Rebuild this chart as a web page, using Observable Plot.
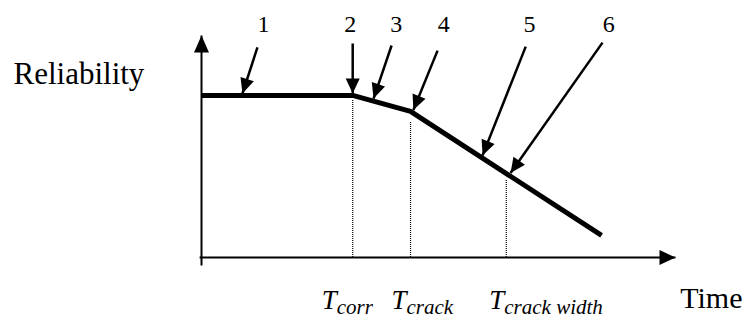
<!DOCTYPE html>
<html><head><meta charset="utf-8">
<script src="https://cdn.jsdelivr.net/npm/d3@7"></script>
<script src="https://cdn.jsdelivr.net/npm/@observablehq/plot@0.6"></script>
<style>body{margin:0;background:#fff} svg{display:block}</style>
</head><body><div id="chart"></div>
<script>
// ---- data (time units / reliability units) ----
const curveTime = [0, 3.19, 4.41, 8.44];
const curveReliability = [0.73, 0.73, 0.658, 0.10];
const milestoneNames = ["corr", "crack", "crack width"];
const milestoneTime = [3.19, 4.41, 6.43];
const milestoneGuideTop = [0.707, 0.613, 0.351];
const calloutLabels = ["1", "2", "3", "4", "5", "6"];
const calloutLabelTime = [1.31, 3.14, 4.11, 5.11, 6.92, 8.59];
const calloutFromTime = [1.18, 3.19, 4.01, 4.98, 6.84, 8.46];
const calloutFromRel = [0.946, 0.964, 0.955, 0.932, 0.950, 0.968];
const calloutToTime = [0.865, 3.19, 3.63, 4.47, 5.93, 6.52];
const calloutToRel = [0.739, 0.739, 0.716, 0.664, 0.460, 0.381];
const axisTimeMax = 10;
const axisRelMax = 1;
const yAxisLabel = "Reliability";
const xAxisLabel = "Time";

const curve = curveTime.map((t, i) => ({t, r: curveReliability[i]}));
const milestones = milestoneTime.map((t, i) => ({t, top: milestoneGuideTop[i], name: milestoneNames[i]}));
const callouts = calloutLabels.map((label, i) => ({
  label, lt: calloutLabelTime[i],
  x1: calloutFromTime[i], y1: calloutFromRel[i], x2: calloutToTime[i], y2: calloutToRel[i]
}));

function filledHead(len, wid) {
  return (color) => {
    const m = d3.create("svg:marker")
      .attr("viewBox", `${-len} ${-wid / 2} ${len} ${wid}`)
      .attr("markerUnits", "userSpaceOnUse")
      .attr("markerWidth", len).attr("markerHeight", wid)
      .attr("refX", 0).attr("refY", 0)
      .attr("orient", "auto")
      .attr("overflow", "visible");
    m.append("path")
      .attr("d", `M${-len},${-wid / 2}L0,0L${-len},${wid / 2}Z`)
      .attr("fill", color).attr("stroke", "none");
    return m.node();
  };
}

const serif = "'Liberation Serif', 'Times New Roman', serif";
const labelShift = [-16, -4, -2];

const marks = [
  // axes
  Plot.link([0], {x1: 0, x2: 0, y1: -0.036, y2: axisRelMax, stroke: "#000", strokeWidth: 2, markerEnd: filledHead(17, 15)}),
  Plot.link([0], {x1: -0.04, x2: axisTimeMax, y1: 0, y2: 0, stroke: "#000", strokeWidth: 2, markerEnd: filledHead(16, 15)}),
  // dotted guides
  Plot.ruleX(milestones, {x: "t", y1: 0, y2: "top", stroke: "#000", strokeWidth: 1.2, strokeDasharray: "1,1"}),
  // reliability curve
  Plot.line(curve, {x: "t", y: "r", stroke: "#000", strokeWidth: 5, strokeLinejoin: "miter", strokeLinecap: "butt"}),
  // callout arrows
  Plot.link(callouts, {x1: "x1", y1: "y1", x2: "x2", y2: "y2", stroke: "#000", strokeWidth: 2.5, markerEnd: filledHead(15, 14)}),
  Plot.text(callouts, {x: "lt", text: "label", frameAnchor: "top", dy: 31, lineAnchor: "bottom", fontFamily: serif, fontSize: 24, fill: "#000"}),
  // axis labels
  Plot.text([yAxisLabel], {text: d => d, frameAnchor: "top-left", dx: 13, dy: 83, lineAnchor: "bottom", textAnchor: "start", fontFamily: serif, fontSize: 31, fill: "#000"}),
  Plot.text([xAxisLabel], {text: d => d, frameAnchor: "bottom-right", dx: -2, dy: -11, lineAnchor: "bottom", textAnchor: "end", fontFamily: serif, fontSize: 30, fill: "#000"})
];
milestones.forEach((m, i) => {
  marks.push(Plot.text([m], {x: "t", text: () => "T", frameAnchor: "bottom", dx: labelShift[i], dy: -10, lineAnchor: "bottom", textAnchor: "end", fontFamily: serif, fontStyle: "italic", fontSize: 27, fill: "#000"}));
  marks.push(Plot.text([m], {x: "t", text: "name", frameAnchor: "bottom", dx: labelShift[i], dy: -5, lineAnchor: "bottom", textAnchor: "start", fontFamily: serif, fontStyle: "italic", fontSize: 21, fill: "#000"}));
});

const chart = Plot.plot({
  width: 744, height: 318,
  margin: 0,
  x: {domain: [0, axisTimeMax], range: [201, 675], axis: null},
  y: {domain: [0, axisRelMax], range: [257, 35], axis: null},
  style: {background: "#fff", overflow: "visible"},
  marks
});
document.getElementById("chart").append(chart);
</script>
</body></html>
